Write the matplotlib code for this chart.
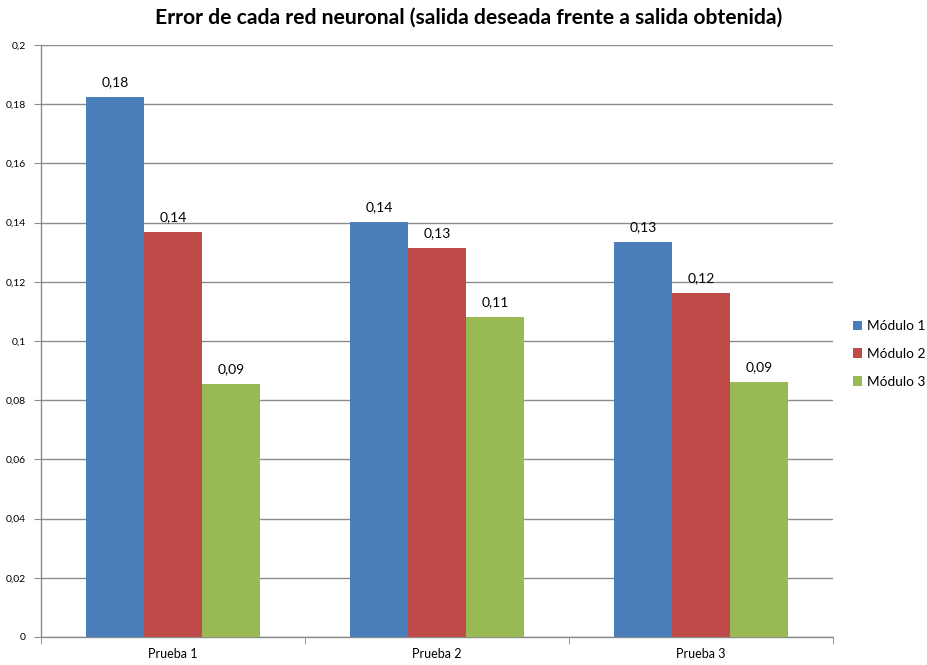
import matplotlib
matplotlib.use("Agg")
import matplotlib.pyplot as plt
import numpy as np
from matplotlib.ticker import FixedLocator, FuncFormatter

categories = ["Prueba 1", "Prueba 2", "Prueba 3"]
series_names = ["Módulo 1", "Módulo 2", "Módulo 3"]
modulo1 = [0.1824, 0.1402, 0.1334]
modulo2 = [0.1368, 0.1314, 0.1162]
modulo3 = [0.0855, 0.1081, 0.0861]
colors = ["#4A7EBB", "#BE4B48", "#98B954"]
y_ticks = [0, 0.02, 0.04, 0.06, 0.08, 0.1, 0.12, 0.14, 0.16, 0.18, 0.2]

plt.rcParams["font.family"] = ["Lato", "DejaVu Sans"]

fig = plt.figure(figsize=(9.27, 6.65), dpi=100)
ax = fig.add_axes([41 / 927, 28 / 665, 792 / 927, 592 / 665])

x = np.arange(len(categories))
width = 0.22
offsets = [-width, 0, width]
grid_c = "#8C8C8C"

for vals, name, col, off in zip([modulo1, modulo2, modulo3], series_names, colors, offsets):
    bars = ax.bar(x + off, vals, width, color=col, label=name, zorder=3)
    for b, v in zip(bars, vals):
        ax.text(b.get_x() + b.get_width() / 2, v + 0.003, f"{v:.2f}".replace(".", ","),
                ha="center", va="bottom", fontsize=10, color="#000000", zorder=4)

ax.set_xlim(-0.5, 2.5)
ax.set_ylim(0, 0.2)
ax.yaxis.set_major_locator(FixedLocator(y_ticks))
ax.yaxis.set_major_formatter(FuncFormatter(lambda v, p: f"{v:g}".replace(".", ",")))
ax.grid(axis="y", color=grid_c, linewidth=1.0, zorder=0)

ax.set_xticks(x)
ax.set_xticklabels(categories)
ax.set_xticks([-0.5, 0.5, 1.5, 2.5], minor=True)
ax.tick_params(axis="x", which="major", length=0, labelsize=9, pad=8)
ax.tick_params(axis="x", which="minor", length=5, color=grid_c, direction="out")
ax.tick_params(axis="y", length=5, color=grid_c, direction="out", labelsize=7.5, pad=6)

for side in ["top", "right"]:
    ax.spines[side].set_visible(False)
for side in ["left", "bottom"]:
    ax.spines[side].set_color(grid_c)
    ax.spines[side].set_linewidth(1.0)

fig.suptitle("Error de cada red neuronal (salida deseada frente a salida obtenida)",
             x=469 / 927, y=1 - 18 / 665, va="center", fontsize=15.2, fontweight="bold")

leg = ax.legend(loc="center left", bbox_to_anchor=(843 / 927, 1 - 354 / 665),
                bbox_transform=fig.transFigure, frameon=False, fontsize=9.8,
                handlelength=0.7, handleheight=0.7, handletextpad=0.35, labelspacing=1.15,
                borderpad=0.2)

fig.savefig("out.png", dpi=100)
